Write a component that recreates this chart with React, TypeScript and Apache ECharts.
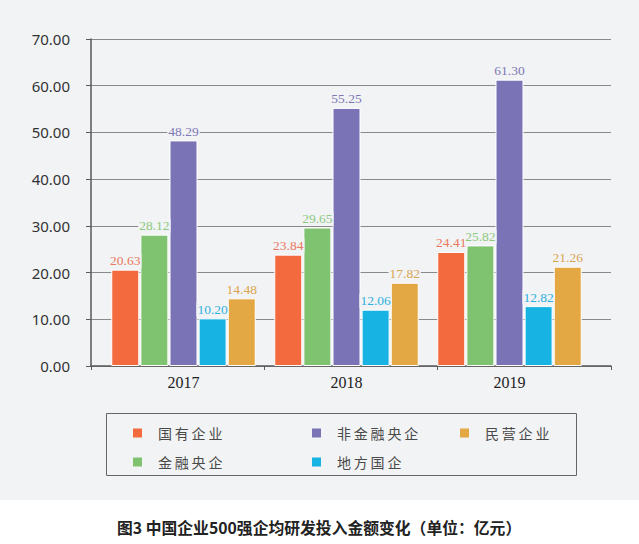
import React, { useEffect, useRef } from "react";
import * as echarts from "echarts";

const categories = ["2017", "2018", "2019"];
const seriesNames = ["国有企业", "金融央企", "非金融央企", "地方国企", "民营企业"];
const stateOwned = [20.63, 23.84, 24.41];
const financialCentral = [28.12, 29.65, 25.82];
const nonFinancialCentral = [48.29, 55.25, 61.3];
const localState = [10.2, 12.06, 12.82];
const privateEnt = [14.48, 17.82, 21.26];
const seriesValues = [stateOwned, financialCentral, nonFinancialCentral, localState, privateEnt];
const barColors = ["#f26a3e", "#7fc371", "#7a74b6", "#17b3e2", "#e3a843"];
const labelColors = ["#e9785e", "#8cc97e", "#7d78b4", "#2eb1de", "#d9a550"];
const caption = "图3 中国企业500强企均研发投入金额变化（单位：亿元）";

const BG = "#f2f3f5";

const legendPos: Record<string, [number, number]> = {
  "国有企业": [133, 0],
  "非金融央企": [312, 0],
  "民营企业": [460, 0],
  "金融央企": [133, 1],
  "地方国企": [312, 1],
};

export default function App() {
  const ref = useRef<HTMLDivElement>(null);
  useEffect(() => {
    document.body.style.margin = "0";
    const chart = echarts.init(ref.current!, null, { renderer: "svg" });
    const legends = seriesNames.map((n) => ({
      data: [n],
      left: legendPos[n][0],
      top: 426 + legendPos[n][1] * 29,
      padding: 0,
      itemGap: 0,
      itemWidth: 9,
      itemHeight: 9,
      icon: "rect",
      itemStyle: { borderWidth: 0 },
      selectedMode: false,
      formatter: (s: string) => s.split("").join("\u2009"),
      textStyle: {
        fontSize: 14,
        color: "#4a4a4a",
        fontFamily: "Noto Sans CJK SC",
        padding: [0, 0, 0, 11],
      },
    }));
    chart.setOption({
      animation: false,
      backgroundColor: "#ffffff",
      graphic: [
        { type: "rect", left: 0, top: 0, z: -10, shape: { width: 639, height: 500 }, style: { fill: BG } },
        {
          type: "rect",
          shape: { x: 106.5, y: 413.5, width: 470, height: 62 },
          style: { fill: "none", stroke: "#666", lineWidth: 1 },
        },
        {
          type: "text",
          x: 117,
          y: 527,
          style: {
            text: caption,
            fontSize: 15.8,
            fontWeight: "bold",
            fontFamily: "Noto Sans CJK SC",
            fill: "#222",
            verticalAlign: "middle",
          },
        },
      ],
      legend: legends,
      grid: [
        { left: 91, right: 28, top: 39, bottom: 178 },
        { left: 102, width: 489, top: 39, bottom: 178 },
      ],
      xAxis: [
        {
          type: "category",
          gridIndex: 0,
          data: categories,
          axisLine: { lineStyle: { color: "#595959", width: 1.5 } },
          axisTick: { show: true, length: 4, lineStyle: { color: "#595959" } },
          axisLabel: { show: false },
        },
        {
          type: "category",
          gridIndex: 1,
          data: categories,
          axisLine: { show: false },
          axisTick: { show: false },
          axisLabel: {
            margin: 8,
            fontSize: 16,
            fontFamily: "Liberation Serif",
            color: "#222",
          },
        },
      ],
      yAxis: [
        {
          type: "value",
          gridIndex: 0,
          min: 0,
          max: 70,
          interval: 10,
          axisLine: { show: true, lineStyle: { color: "#595959", width: 1.5 } },
          axisTick: { show: true, length: 5, lineStyle: { color: "#595959" } },
          splitLine: { lineStyle: { color: "#8a8a8a", width: 1 } },
          axisLabel: {
            margin: 21,
            fontSize: 15,
            fontFamily: "Noto Sans",
            color: "#333",
            formatter: (v: number) => v.toFixed(2),
          },
        },
        {
          type: "value",
          gridIndex: 1,
          min: 0,
          max: 70,
          interval: 10,
          show: false,
          splitLine: { show: false },
        },
      ],
      series: seriesNames.map((n, i) => ({
        name: n,
        type: "bar",
        xAxisIndex: 1,
        yAxisIndex: 1,
        data: seriesValues[i],
        barWidth: 28,
        barGap: "4%",
        itemStyle: { color: barColors[i], borderColor: "#ffffff", borderWidth: 1 },
        emphasis: { disabled: true },
        label: {
          show: true,
          position: "top",
          distance: 2,
          formatter: (p: any) => p.value.toFixed(2),
          fontSize: 13.5,
          fontFamily: "Liberation Serif",
          color: labelColors[i],
          backgroundColor: BG,
          padding: [0, 1],
        },
      })),
    });
    return () => chart.dispose();
  }, []);
  return <div ref={ref} style={{ width: 639, height: 544 }} />;
}
